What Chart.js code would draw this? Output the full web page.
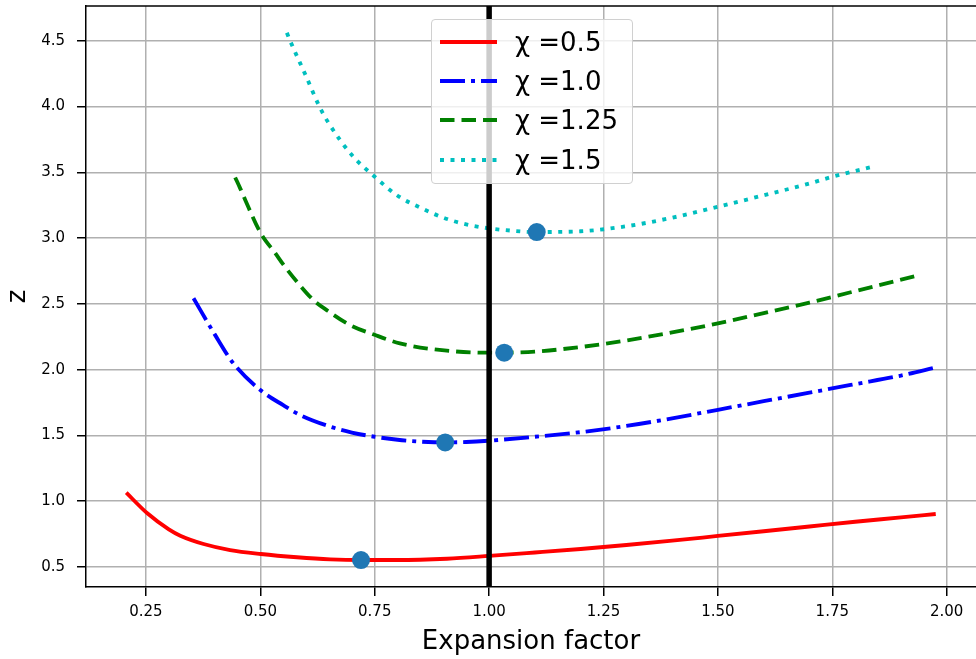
<!DOCTYPE html>
<html>
<head>
<meta charset="utf-8">
<script src="https://cdn.jsdelivr.net/npm/chart.js@4.4.1/dist/chart.umd.min.js"></script>
<style>
html,body{margin:0;padding:0;background:#fff;overflow:hidden;}
#wrap{position:relative;width:976px;height:659px;}
#legend{position:absolute;left:431px;top:19px;width:202px;height:165px;border:1px solid #d0d0d0;border-radius:4px;background:rgba(255,255,255,0.8);font-family:"DejaVu Sans";font-size:26px;color:#000;box-sizing:border-box;padding-top:2px;}
.row{height:39.3px;display:flex;align-items:center;white-space:nowrap;}
.row svg{margin-left:8px;margin-right:18px;flex:none;}
</style>
</head>
<body>
<div id="wrap">
<canvas id="c"></canvas>
<div id="legend"></div>
</div>
<script>
// ---- data ----
const seriesLabels = ['χ =0.5', 'χ =1.0', 'χ =1.25', 'χ =1.5'];

const redX = [0.207,0.253,0.300,0.325,0.376,0.434,0.501,0.580,0.653,0.720,0.798,0.908,1.00,1.10,1.20,1.30,1.40,1.50,1.60,1.70,1.80,1.90,1.976];
const redY = [1.065,0.908,0.786,0.738,0.675,0.629,0.599,0.574,0.558,0.553,0.553,0.563,0.584,0.610,0.637,0.667,0.700,0.736,0.772,0.808,0.844,0.877,0.903];

const blueX = [0.354,0.40,0.441,0.50,0.55,0.587,0.65,0.70,0.75,0.80,0.85,0.904,0.95,1.00,1.10,1.20,1.30,1.40,1.50,1.60,1.70,1.80,1.90,1.978];
const blueY = [2.542,2.27,2.048,1.845,1.73,1.655,1.57,1.522,1.49,1.467,1.453,1.447,1.450,1.46,1.49,1.525,1.572,1.63,1.695,1.76,1.825,1.89,1.955,2.018];

const greenX = [0.445,0.456,0.467,0.501,0.533,0.551,0.580,0.616,0.645,0.696,0.751,0.805,0.878,0.995,1.05,1.10,1.20,1.30,1.40,1.50,1.60,1.70,1.80,1.935];
const greenY = [3.461,3.378,3.289,3.036,2.884,2.795,2.668,2.529,2.453,2.339,2.263,2.200,2.155,2.129,2.130,2.137,2.172,2.222,2.283,2.352,2.43,2.51,2.597,2.714];

const cyanX = [0.558,0.565,0.60,0.629,0.65,0.70,0.75,0.80,0.85,0.90,0.95,1.00,1.05,1.10,1.20,1.30,1.40,1.50,1.60,1.70,1.75,1.845];
const cyanY = [4.56,4.50,4.23,4.00,3.87,3.631,3.466,3.322,3.231,3.155,3.104,3.074,3.056,3.046,3.052,3.09,3.155,3.238,3.325,3.415,3.466,3.548];

const markerX = [0.72, 0.904, 1.033, 1.104];
const markerY = [0.553, 1.447, 2.129, 3.046];

const vlineX = [1.0];

const xTicks = [0.25, 0.50, 0.75, 1.00, 1.25, 1.50, 1.75, 2.00];
const yTicks = [0.5, 1.0, 1.5, 2.0, 2.5, 3.0, 3.5, 4.0, 4.5];

const xRange = [0.119, 2.064];
const yRange = [0.348, 4.764];

// ---- styles ----
const seriesColors = ['#ff0000', '#0000ff', '#008000', '#00bfbf'];
const seriesDash = [[], [25, 6, 4, 6], [14.5, 7], [4, 6.5]];
const LW = 3.85;

Chart.defaults.font.family = '"DejaVu Sans"';
Chart.defaults.color = '#000';

const toPts = (xs, ys) => xs.map((x, i) => ({x: x, y: ys[i]}));
const seriesData = [toPts(redX, redY), toPts(blueX, blueY), toPts(greenX, greenY), toPts(cyanX, cyanY)];

const curveSets = seriesData.map((d, i) => ({
  label: seriesLabels[i],
  data: d,
  borderColor: seriesColors[i],
  borderWidth: LW,
  borderDash: seriesDash[i],
  borderCapStyle: 'butt',
  pointRadius: 0,
  pointHoverRadius: 0,
  cubicInterpolationMode: 'monotone',
  fill: false,
  order: 2
}));

const topSpine = {
  id: 'topSpine',
  afterDraw(chart) {
    const {ctx, chartArea} = chart;
    ctx.save();
    ctx.strokeStyle = '#000';
    ctx.lineWidth = 1.5;
    ctx.beginPath();
    ctx.moveTo(chartArea.left - 0.75, chartArea.top);
    ctx.lineTo(chartArea.right, chartArea.top);
    ctx.stroke();
    ctx.restore();
  }
};

const zeroPad = s => { s.paddingTop = 0; s.paddingBottom = 0; s.paddingLeft = 0; s.paddingRight = 0; };

const gridOpts = {color: '#b0b0b0', lineWidth: 1.5, tickColor: '#000', tickLength: 9, tickWidth: 1.5, drawTicks: true};
const borderOpts = {color: '#000', width: 1.5};
const tickFont = {size: 15, family: '"DejaVu Sans"'};

new Chart(document.getElementById('c'), {
  type: 'line',
  data: {
    datasets: [
      {
        label: 'optimum',
        data: toPts(markerX, markerY),
        showLine: false,
        pointRadius: 9,
        pointHoverRadius: 9,
        pointBackgroundColor: '#1f77b4',
        pointBorderWidth: 0,
        order: 0
      },
      {
        label: 'x=1',
        data: [{x: vlineX[0], y: yRange[0]}, {x: vlineX[0], y: yRange[1]}],
        borderColor: '#000',
        borderWidth: 5.5,
        borderCapStyle: 'butt',
        pointRadius: 0,
        pointHoverRadius: 0,
        order: 1
      },
      ...curveSets
    ]
  },
  options: {
    responsive: true,
    maintainAspectRatio: false,
    animation: false,
    events: [],
    layout: {autoPadding: false, padding: {top: 6, left: 0, right: 0, bottom: 0}},
    plugins: {legend: {display: false}, tooltip: {enabled: false}},
    scales: {
      x: {
        type: 'linear',
        min: xRange[0],
        max: xRange[1],
        afterBuildTicks: s => { s.ticks = xTicks.map(v => ({value: v})); },
        afterFit: s => { s.height = 72; zeroPad(s); },
        ticks: {callback: v => Number(v).toFixed(2), font: tickFont, color: '#000', padding: 7, maxRotation: 0, autoSkip: false},
        grid: gridOpts,
        border: borderOpts,
        title: {display: true, text: 'Expansion factor', font: {size: 26, family: '"DejaVu Sans"'}, color: '#000', padding: {top: 0, bottom: 1.5}}
      },
      y: {
        type: 'linear',
        min: yRange[0],
        max: yRange[1],
        afterBuildTicks: s => { s.ticks = yTicks.map(v => ({value: v})); },
        afterFit: s => { s.width = 86; zeroPad(s); },
        ticks: {callback: v => Number(v).toFixed(1), font: tickFont, color: '#000', padding: 12, autoSkip: false},
        grid: gridOpts,
        border: borderOpts,
        title: {display: true, text: 'z', font: {size: 26, family: '"DejaVu Sans"'}, color: '#000', padding: {top: 3, bottom: 0}}
      }
    }
  },
  plugins: [topSpine]
});

// ---- legend (HTML) ----
const legendEl = document.getElementById('legend');
seriesLabels.forEach((lab, i) => {
  const row = document.createElement('div');
  row.className = 'row';
  const svgNS = 'http://www.w3.org/2000/svg';
  const svg = document.createElementNS(svgNS, 'svg');
  svg.setAttribute('width', '57');
  svg.setAttribute('height', '10');
  const ln = document.createElementNS(svgNS, 'line');
  ln.setAttribute('x1', '0'); ln.setAttribute('y1', '5');
  ln.setAttribute('x2', '57'); ln.setAttribute('y2', '5');
  ln.setAttribute('stroke', seriesColors[i]);
  ln.setAttribute('stroke-width', String(LW));
  if (seriesDash[i].length) ln.setAttribute('stroke-dasharray', seriesDash[i].join(' '));
  svg.appendChild(ln);
  const span = document.createElement('span');
  span.textContent = lab;
  row.appendChild(svg);
  row.appendChild(span);
  legendEl.appendChild(row);
});
</script>
</body>
</html>
